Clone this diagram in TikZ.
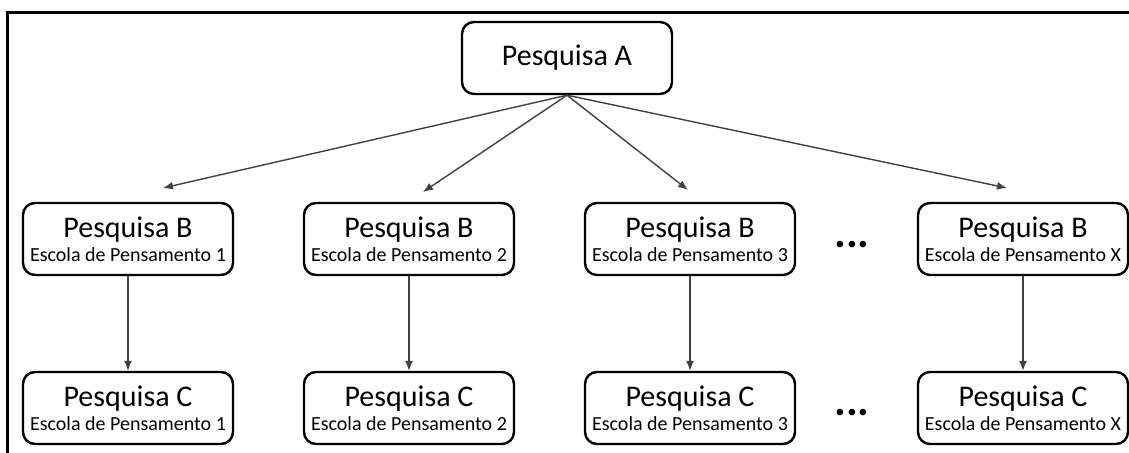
\documentclass[tikz,border=0pt]{standalone}
\usepackage{fontspec}
\setmainfont{Carlito}
\usetikzlibrary{arrows.meta}
\newcommand{\escola}[1]{{\fontsize{10}{13}\selectfont #1}}
\begin{document}
\begin{tikzpicture}[x=0.5pt,y=-0.5pt,
        box/.style={draw, line width=1.2pt, rounded corners=6pt, fill=white, minimum width=105pt, minimum height=36pt, align=center, inner sep=1pt, font=\fontsize{15}{16}\selectfont},
        link/.style={draw=black!75, line width=0.7pt, -{Latex[length=5pt,width=4pt]}},
        more/.style={anchor=base, font=\fontsize{22}{24}\selectfont\bfseries}]
        \useasboundingbox (0,0) rectangle (1129,453);
        \draw[line width=1.5pt] (7,453) -- (7,13) -- (1129,13);
        \node[box] (a) at (567,58) {Pesquisa A};
        \node[box] (b1) at (128,239) {Pesquisa B\\[-4pt]\escola{Escola de Pensamento 1}};
        \node[box] (b2) at (409,239) {Pesquisa B\\[-4pt]\escola{Escola de Pensamento 2}};
        \node[box] (b3) at (690,239) {Pesquisa B\\[-4pt]\escola{Escola de Pensamento 3}};
        \node[box] (bx) at (1023,239) {Pesquisa B\\[-4pt]\escola{Escola de Pensamento X}};
        \node[box] (c1) at (128,408) {Pesquisa C\\[-4pt]\escola{Escola de Pensamento 1}};
        \node[box] (c2) at (409,408) {Pesquisa C\\[-4pt]\escola{Escola de Pensamento 2}};
        \node[box] (c3) at (690,408) {Pesquisa C\\[-4pt]\escola{Escola de Pensamento 3}};
        \node[box] (cx) at (1023,408) {Pesquisa C\\[-4pt]\escola{Escola de Pensamento X}};
        \node[more] (db) at (852,248) {...};
        \node[more] (dc) at (852,416) {...};
        \coordinate (t1) at (163,188);
        \coordinate (t2) at (423,192);
        \coordinate (t3) at (688,190);
        \coordinate (tx) at (1007,188);
        \draw[link] (a.south) -- (t1);
        \draw[link] (a.south) -- (t2);
        \draw[link] (a.south) -- (t3);
        \draw[link] (a.south) -- (tx);
        \draw[link] (b1) -- (c1);
        \draw[link] (b2) -- (c2);
        \draw[link] (b3) -- (c3);
        \draw[link] (bx) -- (cx);
\end{tikzpicture}
\end{document}
